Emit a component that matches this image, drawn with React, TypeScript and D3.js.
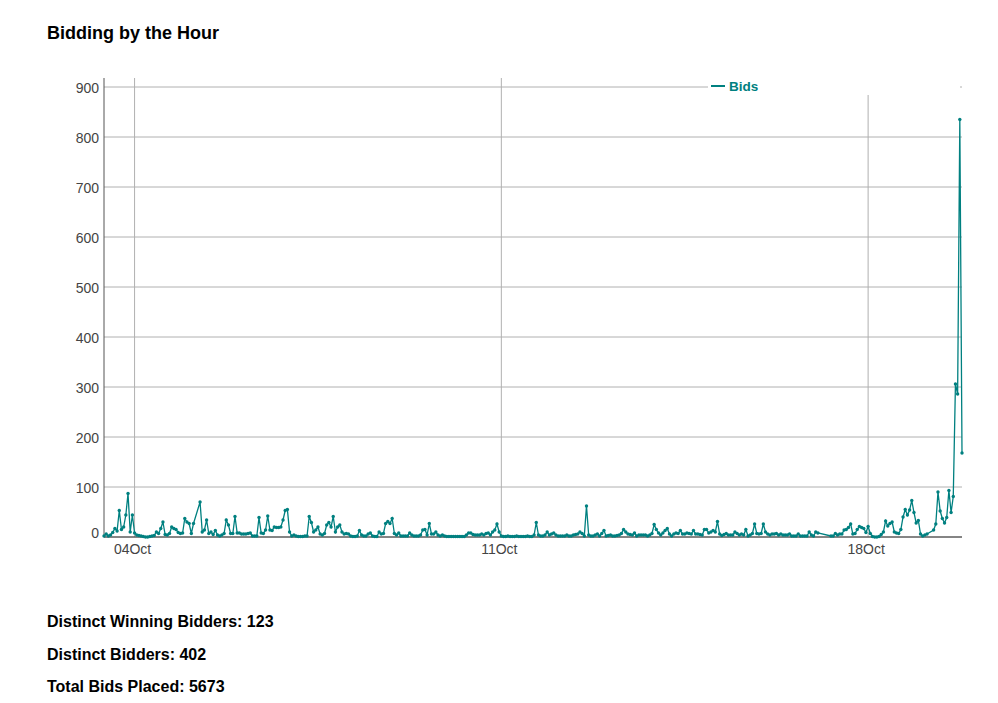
import React from 'react';
import * as d3 from 'd3';

// first hour of data, then one value per hour (null = nothing logged that hour)
const firstHour = new Date(2020, 9, 3, 10);

const bidsOct03 = [2, 6, 2, 4, 9, 17, 12, 53, 15, 20, 44, 87, 10, 44];
const bidsOct04 = [8, 4, 3, 2, 1, 0, 0, 1, 2, 3, 10, 7, 17, 30, 5, 4, 7, 20, 17, 15, 9, 7, 8, 37];
const bidsOct05 = [30, 27, 7, 27, null, null, 70, 10, 14, 34, 7, 10, 5, 13, 4, 2, 4, 7, 34, 24, 7, 7, 41, 8];
const bidsOct06 = [8, 6, 6, 6, 7, 8, 2, 2, 2, 39, 8, 7, 14, 42, 14, 13, 20, 19, 19, 20, 34, 53, 55, 10];
const bidsOct07 = [2, 4, 2, 1, 1, 1, 2, 2, 41, 29, 10, 14, 20, 6, 4, 7, 24, 29, 20, 41, 10, 20, 24, 10];
const bidsOct08 = [6, 7, 6, 2, 1, 1, 2, 13, 4, 2, 2, 6, 8, 2, 1, 1, 10, 6, 7, 27, 31, 27, 37, 7];
const bidsOct09 = [4, 8, 2, 2, 2, 2, 8, 4, 2, 2, 2, 4, 14, 15, 4, 27, 6, 6, 10, 4, 2, 4, 2, 1];
const bidsOct10 = [1, 1, 1, 1, 1, 1, 1, 1, 4, 8, 8, 5, 4, 4, 4, 6, 4, 7, 8, 4, 10, 14, 26, 10];
const bidsOct11 = [2, 1, 1, 2, 1, 1, 1, 2, 1, 1, 1, 1, 2, 1, 1, 4, 29, 4, 2, 2, 4, 10, 4, 6];
const bidsOct12 = [8, 4, 2, 2, 2, 2, 4, 2, 2, 4, 5, 6, 10, 7, 2, 62, 4, 2, 2, 4, 6, 2, 7, 13];
const bidsOct13 = [2, 3, 4, 2, 2, 3, 4, 7, 15, 10, 6, 5, 4, 8, 2, 4, 4, 4, 4, 2, 4, 7, 25, 15];
const bidsOct14 = [8, 4, 8, 13, 17, 6, 2, 6, 8, 7, 13, 6, 6, 8, 7, 6, 13, 6, 6, 5, 4, 15, 15, 8];
const bidsOct15 = [10, 13, 10, 31, 6, 3, 5, 7, 4, 4, 4, 10, 7, 4, 6, 4, 15, 2, 4, 7, 26, 7, 6, 7];
const bidsOct16 = [26, 10, 6, 4, 6, 6, 7, 4, 6, 4, 4, 4, 6, 2, 2, 2, 6, 2, 2, 2, 2, 10, 4, 2];
const bidsOct17 = [10, 8, null, null, null, null, null, 2, 2, 7, 4, 6, 6, 14, 15, 19, 26, 6, 7, 15, 21, 19, 17, 9];
const bidsOct18 = [21, 7, 1, 0, 0, 1, 5, 10, 32, 22, 27, 30, 10, 8, 7, 15, 40, 55, 44, 54, 73, 49, 28, 33];
const bidsOct19 = [6, 2, 4, 6, null, null, 14, 26, 90, 52, 37, 28, 39, 93, 49, 81, 306, 286, 835, 168];

const hourlyBids: (number | null)[] = [
  ...bidsOct03, ...bidsOct04, ...bidsOct05, ...bidsOct06, ...bidsOct07, ...bidsOct08,
  ...bidsOct09, ...bidsOct10, ...bidsOct11, ...bidsOct12, ...bidsOct13, ...bidsOct14,
  ...bidsOct15, ...bidsOct16, ...bidsOct17, ...bidsOct18, ...bidsOct19,
];

const yTicks = [0, 100, 200, 300, 400, 500, 600, 700, 800, 900];
const dayTicks = [new Date(2020, 9, 4), new Date(2020, 9, 11), new Date(2020, 9, 18)];
const seriesName = 'Bids';
const summaryLines = [
  'Distinct Winning Bidders: 123',
  'Distinct Bidders: 402',
  'Total Bids Placed: 5673',
];

const TEAL = '#008080';
const FONT = "Arial, 'Liberation Sans', sans-serif";

const left = 104;
const right = 962;
const top = 78;
const bottom = 537;

export default function App() {
  const points = hourlyBids
    .map((v, i) => ({ t: d3.timeHour.offset(firstHour, i), v }))
    .filter((d) => d.v !== null) as { t: Date; v: number }[];

  const x = d3
    .scaleTime()
    .domain([firstHour, d3.timeHour.offset(firstHour, hourlyBids.length - 1)])
    .range([left, right]);
  const y = d3.scaleLinear().domain([0, 918]).range([bottom, top]);

  const line = d3
    .line<{ t: Date; v: number }>()
    .x((d) => x(d.t))
    .y((d) => y(d.v));

  const fmt = d3.timeFormat('%d%b');

  return (
    <svg
      width={998}
      height={703}
      style={{ position: 'absolute', left: 0, top: 0, background: '#fff' }}
      fontFamily={FONT}
    >
      <text x={47} y={39} fontSize={18} fontWeight="bold" fill="#000">
        Bidding by the Hour
      </text>

      {/* horizontal grid */}
      {yTicks.map((t) => (
        <line key={'gy' + t} x1={left} x2={right} y1={y(t)} y2={y(t)} stroke="#b0b0b0" strokeWidth={1} />
      ))}
      {/* vertical grid at day ticks */}
      {dayTicks.map((d) => (
        <line key={'gx' + d.getTime()} x1={x(d)} x2={x(d)} y1={top} y2={bottom} stroke="#b0b0b0" strokeWidth={1} />
      ))}

      {/* legend sits over the grid */}
      <rect x={708} y={top} width={252} height={17} fill="#fff" />
      <line x1={711} x2={725} y1={86} y2={86} stroke={TEAL} strokeWidth={2} />
      <text x={729} y={91} fontSize={13.5} fontWeight="bold" fill={TEAL}>
        {seriesName}
      </text>

      {/* axes */}
      <line x1={left} x2={left} y1={top} y2={bottom} stroke="#555" strokeWidth={1} />
      <line x1={left} x2={right} y1={bottom} y2={bottom} stroke="#333" strokeWidth={1} />

      {yTicks.map((t) => (
        <text key={'ty' + t} x={99} y={y(t) + (t === 0 ? 1 : 6)} fontSize={14} textAnchor="end" fill="#444">
          {t}
        </text>
      ))}
      {dayTicks.map((d) => (
        <text key={'tx' + d.getTime()} x={x(d) - 2} y={554} fontSize={14} textAnchor="middle" fill="#444">
          {fmt(d)}
        </text>
      ))}

      <path d={line(points) || ''} fill="none" stroke={TEAL} strokeWidth={1.3} />
      {points.map((d, i) => (
        <circle key={i} cx={x(d.t)} cy={y(d.v)} r={1.7} fill={TEAL} />
      ))}

      {summaryLines.map((s, i) => (
        <text key={s} x={47} y={627 + i * 32.5} fontSize={16} fontWeight="bold" fill="#000">
          {s}
        </text>
      ))}
    </svg>
  );
}
